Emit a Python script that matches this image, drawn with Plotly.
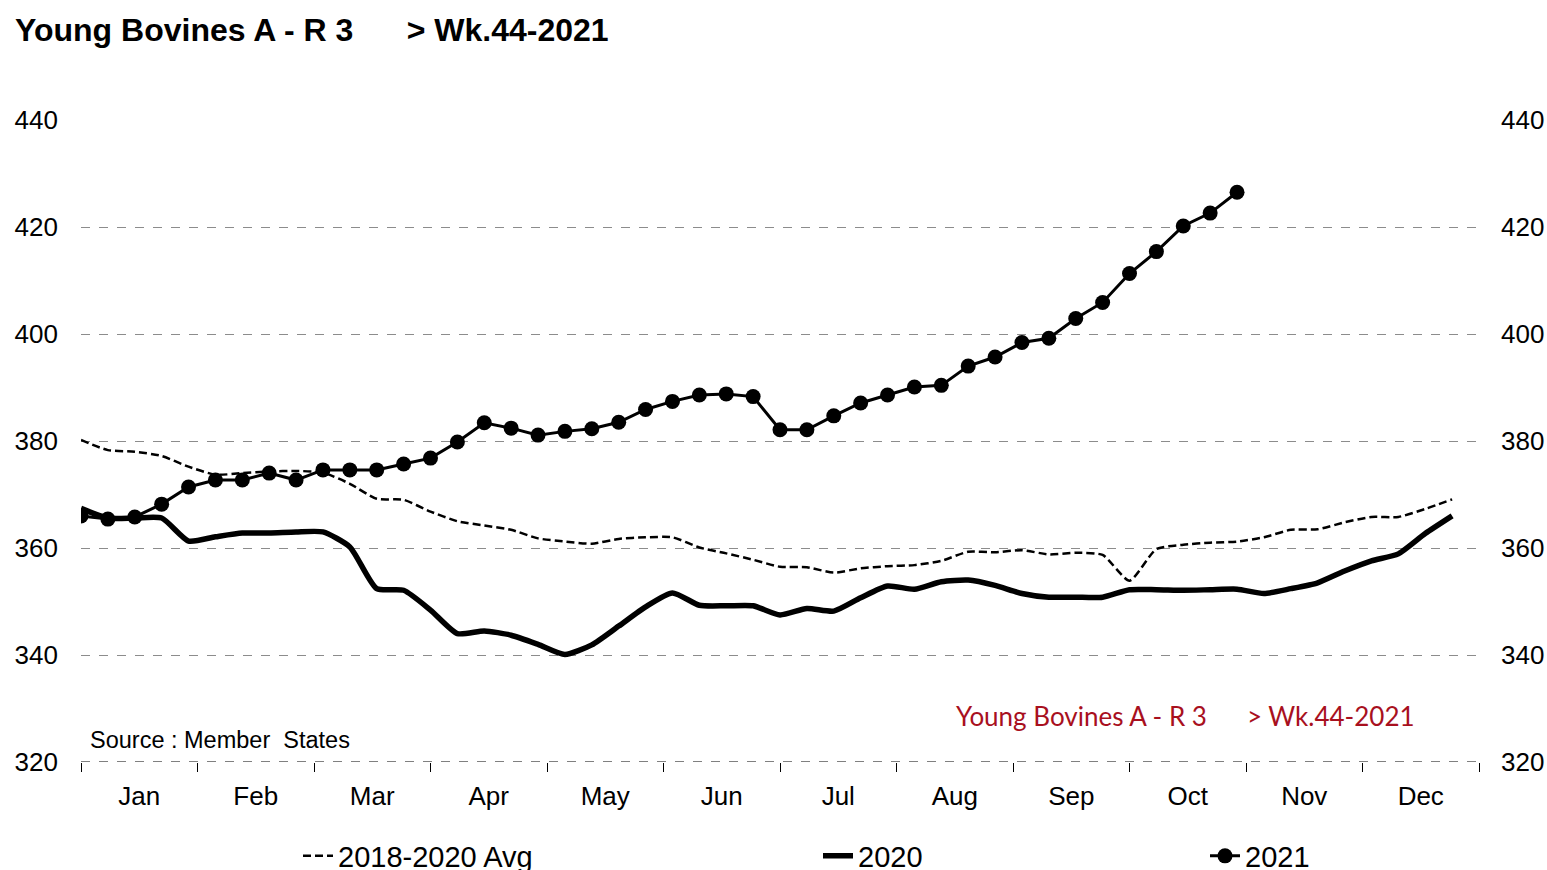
import plotly.graph_objects as go

weeks = list(range(1, 53))
months = ["Jan", "Feb", "Mar", "Apr", "May", "Jun", "Jul", "Aug", "Sep", "Oct", "Nov", "Dec"]

avg_2018_2020 = [380.2, 378.3, 378.0, 377.2, 375.2, 373.7, 374.0, 374.3, 374.4, 374.1,
                 372.0, 369.2, 369.0, 366.8, 365.0, 364.2, 363.4, 361.8, 361.2, 360.8,
                 361.7, 362.0, 362.0, 360.1, 359.0, 357.8, 356.5, 356.4, 355.4, 356.2,
                 356.6, 356.8, 357.6, 359.3, 359.2, 359.6, 358.8, 359.1, 358.7, 353.9,
                 359.8, 360.6, 361.0, 361.2, 362.0, 363.4, 363.5, 364.8, 365.8, 365.8,
                 367.3, 369.1]

y2020 = [367.4, 365.6, 365.6, 365.6, 361.3, 362.1, 362.8, 362.8, 363.0, 363.0,
         360.2, 352.4, 352.1, 348.4, 344.0, 344.5, 343.7, 342.0, 340.1, 341.9,
         345.4, 349.0, 351.6, 349.3, 349.2, 349.2, 347.5, 348.7, 348.2, 350.7,
         352.9, 352.3, 353.7, 354.0, 353.0, 351.5, 350.8, 350.8, 350.8, 352.2,
         352.2, 352.1, 352.2, 352.3, 351.5, 352.4, 353.5, 355.7, 357.6, 358.9,
         362.7, 366.0]

y2021 = [366.0, 365.4, 365.8, 368.2, 371.4, 372.7, 372.7, 374.0, 372.7, 374.6,
         374.6, 374.6, 375.7, 376.8, 379.8, 383.4, 382.4, 381.1, 381.8, 382.3,
         383.5, 385.9, 387.4, 388.6, 388.8, 388.3, 382.1, 382.1, 384.7, 387.1,
         388.6, 390.1, 390.4, 394.0, 395.7, 398.4, 399.2, 402.9, 405.9, 411.3,
         415.4, 420.2, 422.6, 426.5]

y_ticks = [320, 340, 360, 380, 400, 420, 440]

n_weeks = 52
month_len = n_weeks / 12
month_centers = [1 + (k + 0.5) * month_len for k in range(12)]

FONT = "Liberation Sans, Arial, sans-serif"
W, H = 1547, 870

fig = go.Figure()

fig.add_trace(go.Scatter(
    x=weeks, y=avg_2018_2020, name="2018-2020 Avg", mode="lines",
    line=dict(color="black", width=2.5, dash="8px,4px", shape="spline", smoothing=0.6),
    legend="legend"))
fig.add_trace(go.Scatter(
    x=weeks, y=y2020, name="2020", mode="lines",
    line=dict(color="black", width=5.5, shape="spline", smoothing=0.6),
    legend="legend2"))
fig.add_trace(go.Scatter(
    x=weeks[:len(y2021)], y=y2021, name="2021", mode="lines+markers",
    line=dict(color="black", width=3),
    marker=dict(color="black", size=15, symbol="circle"),
    legend="legend3"))
# invisible trace to drive right axis
fig.add_trace(go.Scatter(x=[1], y=[320], yaxis="y2", mode="markers",
                         marker=dict(opacity=0), showlegend=False, hoverinfo="skip"))

grid = dict(showgrid=True, gridcolor="#8c8c8c", griddash="dash", gridwidth=1)

leg = dict(orientation="h", xref="container", yref="container",
           y=14 / H, xanchor="left", yanchor="middle",
           font=dict(size=29, family=FONT), bgcolor="rgba(0,0,0,0)")

fig.update_layout(
    width=W, height=H,
    margin=dict(l=81, r=68, t=120, b=108),
    paper_bgcolor="white", plot_bgcolor="white",
    font=dict(family=FONT, color="black"),
    xaxis=dict(
        range=[1, 1 + n_weeks], showgrid=False, zeroline=False, showline=False,
        automargin=False,
        tickmode="array", tickvals=month_centers, ticktext=months,
        ticks="", tickfont=dict(size=26, family=FONT), ticklabelstandoff=16,
        minor=dict(tickmode="linear", tick0=1, dtick=month_len, ticks="outside",
                   ticklen=9, tickcolor="black", tickwidth=1, showgrid=False),
    ),
    yaxis=dict(
        range=[320, 440], tickmode="array", tickvals=y_ticks, zeroline=False,
        automargin=False,
        showline=False, ticks="", tickfont=dict(size=26, family=FONT),
        ticklabelstandoff=22, **grid),
    yaxis2=dict(
        range=[320, 440], tickmode="array", tickvals=y_ticks, overlaying="y",
        automargin=False,
        side="right", showgrid=False, zeroline=False, showline=False, ticks="",
        tickfont=dict(size=26, family=FONT), ticklabelstandoff=21),
    legend=dict(leg, x=298 / W),
    legend2=dict(leg, x=818 / W),
    legend3=dict(leg, x=1205 / W),
    title=dict(
        text="<b>Young Bovines A - R 3" + "\u00a0" * 6 + "> Wk.44-2021</b>",
        xref="container", yref="container", x=15 / W, y=1 - 30 / H,
        xanchor="left", yanchor="middle", font=dict(size=32, family=FONT)),
    showlegend=True,
)

# bottom axis line (dashed, dark)
fig.add_shape(type="line", xref="paper", yref="y", x0=0, x1=1, y0=320, y1=320,
              line=dict(color="black", width=1, dash="dash"))

fig.add_annotation(text="Source : Member\u00a0 States", xref="paper", yref="y",
                   x=0.005, y=324.1, xanchor="left", yanchor="middle", showarrow=False,
                   font=dict(size=23.5, family=FONT))
fig.add_annotation(text="Young Bovines A - R 3" + "\u00a0" * 6 + "> Wk.44-2021",
                   xref="paper", yref="y", x=0.79, y=328.6, showarrow=False,
                   xanchor="center", yanchor="middle",
                   font=dict(size=26, family="Lato, Open Sans, sans-serif", color="#A8101E"))

fig.write_html(
    "out.html",
    config={"displayModeBar": False},
    post_script="document.body.style.margin='0';document.body.style.overflow='hidden';",
)
